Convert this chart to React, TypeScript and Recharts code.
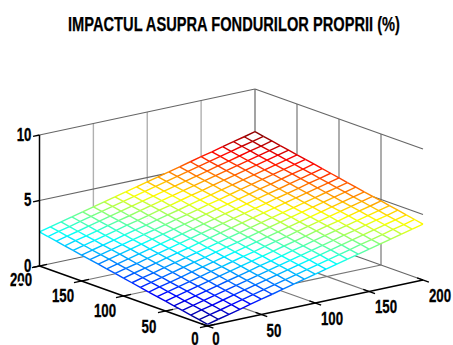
import React from "react";
import { ComposedChart, Line, XAxis, YAxis } from "recharts";

const TITLE = "IMPACTUL ASUPRA FONDURILOR PROPRII (%)";
const gridX = [0, 10, 20, 30, 40, 50, 60, 70, 80, 90, 100, 110, 120, 130, 140, 150, 160, 170, 180, 190, 200];
const gridY = [0, 10, 20, 30, 40, 50, 60, 70, 80, 90, 100, 110, 120, 130, 140, 150, 160, 170, 180, 190, 200];
// surface values: zValues[yIndex][xIndex]
const zValues = [
  [0.13,0.34,0.54,0.75,0.96,1.17,1.37,1.58,1.79,1.99,2.20,2.41,2.61,2.82,3.03,3.24,3.44,3.65,3.86,4.06,4.27],
  [0.25,0.46,0.66,0.87,1.08,1.29,1.49,1.70,1.91,2.11,2.32,2.53,2.73,2.94,3.15,3.36,3.56,3.77,3.98,4.18,4.39],
  [0.38,0.59,0.79,1.00,1.21,1.42,1.62,1.83,2.04,2.24,2.45,2.66,2.86,3.07,3.28,3.49,3.69,3.90,4.11,4.31,4.52],
  [0.50,0.71,0.91,1.12,1.33,1.54,1.74,1.95,2.16,2.36,2.57,2.78,2.98,3.19,3.40,3.61,3.81,4.02,4.23,4.43,4.64],
  [0.62,0.83,1.03,1.24,1.45,1.66,1.86,2.07,2.28,2.48,2.69,2.90,3.10,3.31,3.52,3.73,3.93,4.14,4.35,4.55,4.76],
  [0.75,0.96,1.16,1.37,1.58,1.79,1.99,2.20,2.41,2.61,2.82,3.03,3.23,3.44,3.65,3.86,4.06,4.27,4.48,4.68,4.89],
  [0.87,1.08,1.28,1.49,1.70,1.91,2.11,2.32,2.53,2.73,2.94,3.15,3.35,3.56,3.77,3.98,4.18,4.39,4.60,4.80,5.01],
  [0.99,1.20,1.40,1.61,1.82,2.03,2.23,2.44,2.65,2.85,3.06,3.27,3.47,3.68,3.89,4.10,4.30,4.51,4.72,4.92,5.13],
  [1.12,1.33,1.53,1.74,1.95,2.16,2.36,2.57,2.78,2.98,3.19,3.40,3.60,3.81,4.02,4.23,4.43,4.64,4.85,5.05,5.26],
  [1.24,1.45,1.65,1.86,2.07,2.28,2.48,2.69,2.90,3.10,3.31,3.52,3.72,3.93,4.14,4.35,4.55,4.76,4.97,5.17,5.38],
  [1.37,1.58,1.78,1.99,2.20,2.41,2.61,2.82,3.03,3.23,3.44,3.65,3.85,4.06,4.27,4.48,4.68,4.89,5.10,5.30,5.51],
  [1.49,1.70,1.90,2.11,2.32,2.53,2.73,2.94,3.15,3.35,3.56,3.77,3.97,4.18,4.39,4.60,4.80,5.01,5.22,5.42,5.63],
  [1.61,1.82,2.02,2.23,2.44,2.65,2.85,3.06,3.27,3.47,3.68,3.89,4.09,4.30,4.51,4.72,4.92,5.13,5.34,5.54,5.75],
  [1.74,1.95,2.15,2.36,2.57,2.78,2.98,3.19,3.40,3.60,3.81,4.02,4.22,4.43,4.64,4.85,5.05,5.26,5.47,5.67,5.88],
  [1.86,2.07,2.27,2.48,2.69,2.90,3.10,3.31,3.52,3.72,3.93,4.14,4.34,4.55,4.76,4.97,5.17,5.38,5.59,5.79,6.00],
  [1.98,2.19,2.39,2.60,2.81,3.02,3.22,3.43,3.64,3.84,4.05,4.26,4.46,4.67,4.88,5.09,5.29,5.50,5.71,5.91,6.12],
  [2.11,2.32,2.52,2.73,2.94,3.15,3.35,3.56,3.77,3.97,4.18,4.39,4.59,4.80,5.01,5.22,5.42,5.63,5.84,6.04,6.25],
  [2.23,2.44,2.64,2.85,3.06,3.27,3.47,3.68,3.89,4.09,4.30,4.51,4.71,4.92,5.13,5.34,5.54,5.75,5.96,6.16,6.37],
  [2.35,2.56,2.76,2.97,3.18,3.39,3.59,3.80,4.01,4.21,4.42,4.63,4.83,5.04,5.25,5.46,5.66,5.87,6.08,6.28,6.49],
  [2.48,2.69,2.89,3.10,3.31,3.52,3.72,3.93,4.14,4.34,4.55,4.76,4.96,5.17,5.38,5.59,5.79,6.00,6.21,6.41,6.62],
  [2.60,2.81,3.01,3.22,3.43,3.64,3.84,4.05,4.26,4.46,4.67,4.88,5.08,5.29,5.50,5.71,5.91,6.12,6.33,6.53,6.74],
];
const xTicks = [0, 50, 100, 150, 200];
const yTicks = [0, 50, 100, 150, 200];
const zTicks = [0, 5, 10];

// oblique view of the 3D box
const project = (x: number, y: number, z: number) => ({
  px: 207.5 + x * 1.0775 - y * 0.84,
  py: 326 - x * 0.23 - y * 0.3 - z * 13.1,
});

const jet = (t: number) => {
  const c = (v: number) => Math.round(255 * Math.max(0, Math.min(1, v)));
  const r = c(1.5 - Math.abs(4 * t - 3));
  const g = c(1.5 - Math.abs(4 * t - 2));
  const b = c(1.5 - Math.abs(4 * t - 1));
  return `rgb(${r},${g},${b})`;
};

type P = { px: number; py: number | null };

const last = gridX.length - 1;
const corners = [
  project(gridX[0], gridY[0], zValues[0][0]),
  project(gridX[last], gridY[0], zValues[0][last]),
  project(gridX[last], gridY[last], zValues[last][last]),
  project(gridX[0], gridY[last], zValues[last][0]),
];

// the opaque mesh hides what lies behind it: split a line into the part inside and outside its outline
const split = (a: { px: number; py: number }, b: { px: number; py: number }) => {
  let t0 = 0;
  let t1 = 1;
  let hit = true;
  const dx = b.px - a.px;
  const dy = b.py - a.py;
  corners.forEach((c, i) => {
    const n = corners[(i + 1) % 4];
    const ex = n.px - c.px;
    const ey = n.py - c.py;
    const f = ex * (a.py - c.py) - ey * (a.px - c.px);
    const g = ex * dy - ey * dx;
    if (g === 0) {
      if (f > 0) hit = false;
    } else {
      const t = -f / g;
      if (g < 0) t0 = Math.max(t0, t);
      else t1 = Math.min(t1, t);
    }
  });
  const at = (t: number) => ({ px: a.px + dx * t, py: a.py + dy * t });
  if (!hit || t0 >= t1) return { outside: [a, b] as P[], inside: [] as P[] };
  const outside: P[] = [];
  if (t0 > 0) outside.push(a, at(t0), { px: at(t0).px, py: null });
  if (t1 < 1) outside.push(at(t1), b);
  return { outside, inside: [at(t0), at(t1)] as P[] };
};

const seg = (a: number[], b: number[]) => split(project(a[0], a[1], a[2]), project(b[0], b[1], b[2]));

const wallZ = zTicks.filter((z) => z > 0);
const inner = [50, 100, 150];

const leftWall = inner.map((x) => seg([x, 200, 0], [x, 200, 10]));
const rightWall = inner.map((y) => seg([200, y, 0], [200, y, 10]));
const backEdges = [
  ...wallZ.map((z) => seg([0, 200, z], [200, 200, z])),
  ...wallZ.map((z) => seg([200, 200, z], [200, 0, z])),
  seg([0, 200, 0], [200, 200, 0]),
  seg([200, 200, 0], [200, 0, 0]),
  seg([200, 200, 0], [200, 200, 10]),
];
const floorLines = [
  ...inner.map((x) => seg([x, 0, 0], [x, 200, 0])),
  ...inner.map((y) => seg([0, y, 0], [200, y, 0])),
];
const rawSeg = (a: number[], b: number[]): P[] => [project(a[0], a[1], a[2]), project(b[0], b[1], b[2])];
const axisLines = [
  rawSeg([0, 200, 0], [0, 200, 10]),
  rawSeg([0, 200, 0], [0, 0, 0]),
  rawSeg([0, 0, 0], [200, 0, 0]),
  ...zTicks.map((z) => rawSeg([-6, 200, z], [0, 200, z])),
  ...xTicks.map((x) => rawSeg([x, -7, 0], [x, 7, 0])),
  ...yTicks.map((y) => rawSeg([-7, y, 0], [7, y, 0])),
];
const faintLines = [...leftWall, ...rightWall, ...backEdges.slice(-1)].map((s) => s.inside).filter((d) => d.length);

// mesh edges, grouped by colour level (64-step jet map)
const zFlat = zValues.flat();
const zMin = Math.min(...zFlat);
const zMax = Math.max(...zFlat);
const buckets = new Map<number, P[]>();
const addEdge = (x0: number, y0: number, z0: number, x1: number, y1: number, z1: number) => {
  const level = Math.min(63, Math.floor((((z0 + z1) / 2 - zMin) / (zMax - zMin)) * 64));
  if (!buckets.has(level)) buckets.set(level, []);
  const a = project(x0, y0, z0);
  const b = project(x1, y1, z1);
  buckets.get(level)!.push(a, b, { px: b.px, py: null });
};
gridY.forEach((y, j) =>
  gridX.forEach((x, i) => {
    if (i < last) addEdge(x, y, zValues[j][i], gridX[i + 1], y, zValues[j][i + 1]);
    if (j < last) addEdge(x, y, zValues[j][i], x, gridY[j + 1], zValues[j + 1][i]);
  })
);
const meshSeries = [...buckets.entries()].sort((a, b) => a[0] - b[0]);

const FONT = "'Liberation Sans',Arial,sans-serif";
const labels = [
  ...zTicks.map((z) => ({ label: String(z), anchor: "end", ...project(0, 200, z), dx: -8, dy: 5.5 })),
  ...[
    { label: "200", px: 21, py: 286 },
    { label: "150", px: 63, py: 301.5 },
    { label: "100", px: 105, py: 316.5 },
    { label: "50", px: 149, py: 333 },
    { label: "0", px: 195, py: 344.5 },
    { label: "0", px: 216, py: 344.5 },
    { label: "50", px: 274, py: 336.5 },
    { label: "100", px: 332, py: 325 },
    { label: "150", px: 386, py: 313 },
    { label: "200", px: 440, py: 301.5 },
  ].map((d) => ({ ...d, anchor: "middle", dx: 0, dy: 0 })),
];
const titleRow = [{ px: 234, py: 30.5, label: TITLE }];

const TickText = (p: any) => {
  const d = p.payload;
  return (
    <text
      key={p.index}
      transform={`translate(${p.cx + d.dx},${p.cy + d.dy}) scale(0.7,1)`}
      textAnchor={d.anchor}
      fontFamily={FONT}
      fontWeight={700}
      fontSize={19}
      stroke="#000"
      strokeWidth={0.3}
      fill="#000"
    >
      {d.label}
    </text>
  );
};
const TitleText = (p: any) => (
  <text
    key={p.index}
    x={p.cx}
    y={p.cy}
    textAnchor="middle"
    fontFamily={FONT}
    fontWeight={700}
    fontSize={20}
    textLength={332}
    lengthAdjust="spacingAndGlyphs"
    stroke="#000"
    strokeWidth={0.25}
    fill="#000"
  >
    {p.payload.label}
  </text>
);

const lineProps = { dataKey: "py", dot: false, isAnimationActive: false, legendType: "none" as const, type: "linear" as const };

export default function App() {
  return (
    <div style={{ position: "absolute", left: 0, top: 0, background: "#fff" }}>
      <ComposedChart width={453} height={345} margin={{ top: 0, right: 0, bottom: 0, left: 0 }}>
        <XAxis type="number" dataKey="px" domain={[0, 453]} hide allowDataOverflow />
        <YAxis type="number" domain={[0, 345]} reversed hide allowDataOverflow />
        {faintLines.map((d, i) => (
          <Line key={`fa${i}`} {...lineProps} data={d} stroke="#ececec" strokeWidth={1} strokeDasharray="1 3" />
        ))}
        {leftWall.map((d, i) => (
          <Line key={`lw${i}`} {...lineProps} data={d.outside} stroke="#b0b0b0" strokeWidth={1.4} />
        ))}
        {rightWall.map((d, i) => (
          <Line key={`rw${i}`} {...lineProps} data={d.outside} stroke="#777" strokeWidth={1.2} />
        ))}
        {backEdges.map((d, i) => (
          <Line key={`be${i}`} {...lineProps} data={d.outside} stroke="#666" strokeWidth={1.2} />
        ))}
        {floorLines.map((d, i) => (
          <Line key={`fl${i}`} {...lineProps} data={d.outside} stroke="#777" strokeWidth={1.2} />
        ))}
        {meshSeries.map(([level, d]) => (
          <Line key={`m${level}`} {...lineProps} data={d} stroke={jet((level + 0.5) / 64)} strokeWidth={1.4} />
        ))}
        {axisLines.map((d, i) => (
          <Line key={`ax${i}`} {...lineProps} data={d} stroke="#000" strokeWidth={1.5} />
        ))}
        <Line {...lineProps} data={labels} stroke="none" dot={TickText} />
        <Line {...lineProps} data={titleRow} stroke="none" dot={TitleText} />
      </ComposedChart>
    </div>
  );
}
